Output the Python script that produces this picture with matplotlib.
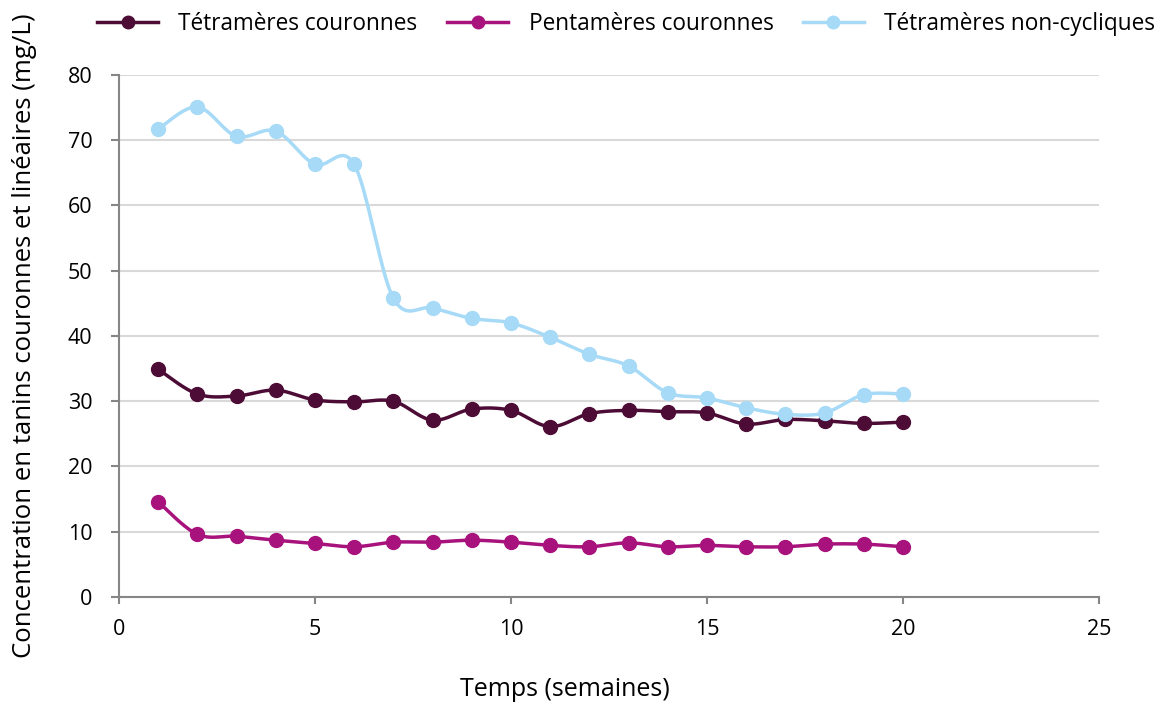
import numpy as np
import matplotlib.pyplot as plt

plt.rcParams['font.family'] = ['Open Sans', 'DejaVu Sans']

semaines = list(range(1, 21))
tetrameres_couronnes = [34.9, 31.1, 30.8, 31.7, 30.2, 29.9, 30.0, 27.1, 28.8, 28.6,
                        26.1, 28.1, 28.6, 28.4, 28.2, 26.5, 27.2, 27.0, 26.6, 26.8]
pentameres_couronnes = [14.6, 9.6, 9.3, 8.7, 8.2, 7.7, 8.4, 8.4, 8.7, 8.4,
                        7.9, 7.7, 8.3, 7.7, 7.9, 7.7, 7.7, 8.1, 8.1, 7.7]
tetrameres_non_cycliques = [71.7, 75.1, 70.6, 71.4, 66.3, 66.3, 45.8, 44.3, 42.7, 42.0,
                            39.8, 37.2, 35.4, 31.3, 30.5, 29.0, 28.0, 28.2, 31.0, 31.1]


def lisser(x, y, n=20):
    # courbe de Bezier type Catmull-Rom entre les points (comme "lisser la ligne" d'Excel)
    x = np.asarray(x, float)
    y = np.asarray(y, float)
    px = np.concatenate([[x[0]], x, [x[-1]]])
    py = np.concatenate([[y[0]], y, [y[-1]]])
    xs, ys = [], []
    t = np.linspace(0, 1, n, endpoint=False)
    for i in range(1, len(px) - 2):
        p0, p1, p2, p3 = (np.array([px[j], py[j]]) for j in (i - 1, i, i + 1, i + 2))
        c1 = p1 + (p2 - p0) / 6
        c2 = p2 - (p3 - p1) / 6
        pts = (np.outer((1 - t) ** 3, p1) + np.outer(3 * (1 - t) ** 2 * t, c1)
               + np.outer(3 * (1 - t) * t ** 2, c2) + np.outer(t ** 3, p2))
        xs.extend(pts[:, 0])
        ys.extend(pts[:, 1])
    xs.append(x[-1])
    ys.append(y[-1])
    return xs, ys


fig = plt.figure(figsize=(11.66, 7.02), dpi=100)
ax = fig.add_axes([0.102, 0.1496, 0.8405, 0.7436])

series = [
    ("Tétramères couronnes", tetrameres_couronnes, "#4D0C35"),
    ("Pentamères couronnes", pentameres_couronnes, "#A8127C"),
    ("Tétramères non-cycliques", tetrameres_non_cycliques, "#A6DAF6"),
]
for nom, valeurs, couleur in series:
    xs, ys = lisser(semaines, valeurs)
    ax.plot(xs, ys, color=couleur, lw=2.5, zorder=3)
    ax.plot(semaines, valeurs, 'o', color=couleur, ms=10, zorder=4)
    ax.plot([], [], '-o', color=couleur, lw=2.5, ms=9, label=nom)

ax.set_xlim(0, 25)
ax.set_ylim(0, 80)
ax.set_xticks(range(0, 26, 5))
ax.set_yticks(range(0, 81, 10))
ax.yaxis.grid(True, color="#D9D9D9", lw=1.5)
ax.set_axisbelow(True)
for s in ("top", "right"):
    ax.spines[s].set_visible(False)
for s in ("left", "bottom"):
    ax.spines[s].set_color("#868686")
    ax.spines[s].set_linewidth(1.5)
ax.tick_params(axis="both", colors="#868686", labelcolor="black", labelsize=15.5,
               width=1.5)
ax.tick_params(axis="y", length=6, pad=13)
ax.tick_params(axis="x", length=5, pad=11)

ax.set_xlabel("Temps (semaines)", fontsize=18)
ax.xaxis.set_label_coords(0.455, -0.153)
ax.set_ylabel("Concentration en tanins couronnes et linéaires (mg/L)", fontsize=18.5)
ax.yaxis.set_label_coords(-0.084, 0.5)

fig.legend(loc="upper center", bbox_to_anchor=(0.537, 1.012), ncol=3, frameon=False,
           fontsize=16.3, handlelength=2.7, columnspacing=1.3, handletextpad=0.9)

plt.savefig("out.png", dpi=100)
